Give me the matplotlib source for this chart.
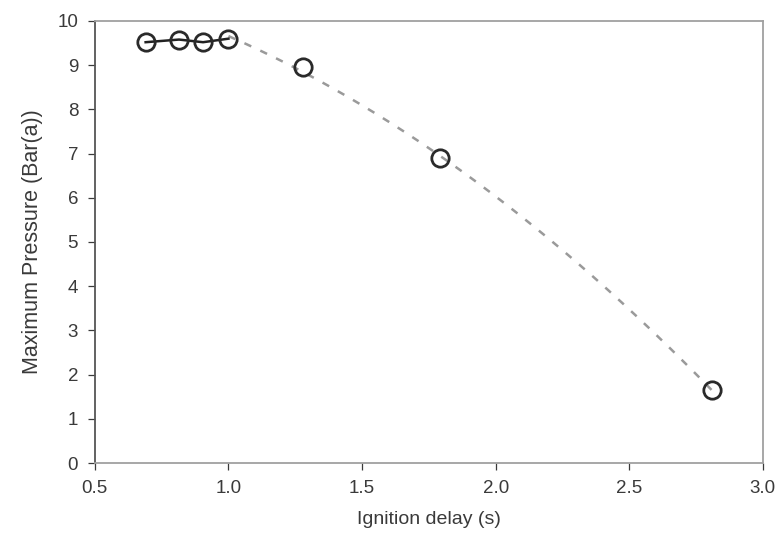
import numpy as np
import matplotlib.pyplot as plt

plt.rcParams['font.family'] = ['Liberation Sans', 'DejaVu Sans']

# measured ignition delay (s) and peak pressure (bar(a))
delay = [0.69, 0.815, 0.905, 1.0, 1.28, 1.79, 2.81]
pressure = [9.52, 9.58, 9.52, 9.60, 8.95, 6.90, 1.65]

# plateau region joined with a solid line, decline region gets a fitted trend
plateau_x = delay[:4]
plateau_y = pressure[:4]
decline_x = delay[3:]
decline_y = pressure[3:]

fig = plt.figure(figsize=(7.84, 5.51), dpi=100)
ax = fig.add_axes([0.121, 0.1597, 0.852, 0.8022])

coef = np.polyfit(decline_x, decline_y, 2)
xs = np.linspace(decline_x[0], decline_x[-1], 200)
ax.plot(xs, np.polyval(coef, xs), ls=(0, (3, 4)), color='#9a9a9a', lw=1.8, zorder=2)
ax.plot(plateau_x, plateau_y, color='#222222', lw=1.8, zorder=3)
ax.plot(delay, pressure, 'o', ms=12.5, mfc='none', mec='#2a2a2a', mew=2.0, zorder=4)

ax.set_xlim(0.5, 3.0)
ax.set_ylim(0, 10)
ax.set_xticks([0.5, 1.0, 1.5, 2.0, 2.5, 3.0])
ax.set_xticklabels(['0.5', '1.0', '1.5', '2.0', '2.5', '3.0'])
ax.set_yticks(range(0, 11))
ax.tick_params(labelsize=13.5, colors='#3a3a3a', length=5, width=0.9, direction='out', pad=7)
for side in ['top', 'right', 'bottom']:
    ax.spines[side].set_color('#a0a0a0')
ax.spines['left'].set_color('#555555')
for s in ax.spines.values():
    s.set_linewidth(1.3)

ax.set_xlabel('Ignition delay (s)', fontsize=14, color='#3a3a3a', labelpad=10)
ax.set_ylabel('Maximum Pressure (Bar(a))', fontsize=15.5, color='#3a3a3a', labelpad=10)

fig.savefig('out.png', dpi=100)
